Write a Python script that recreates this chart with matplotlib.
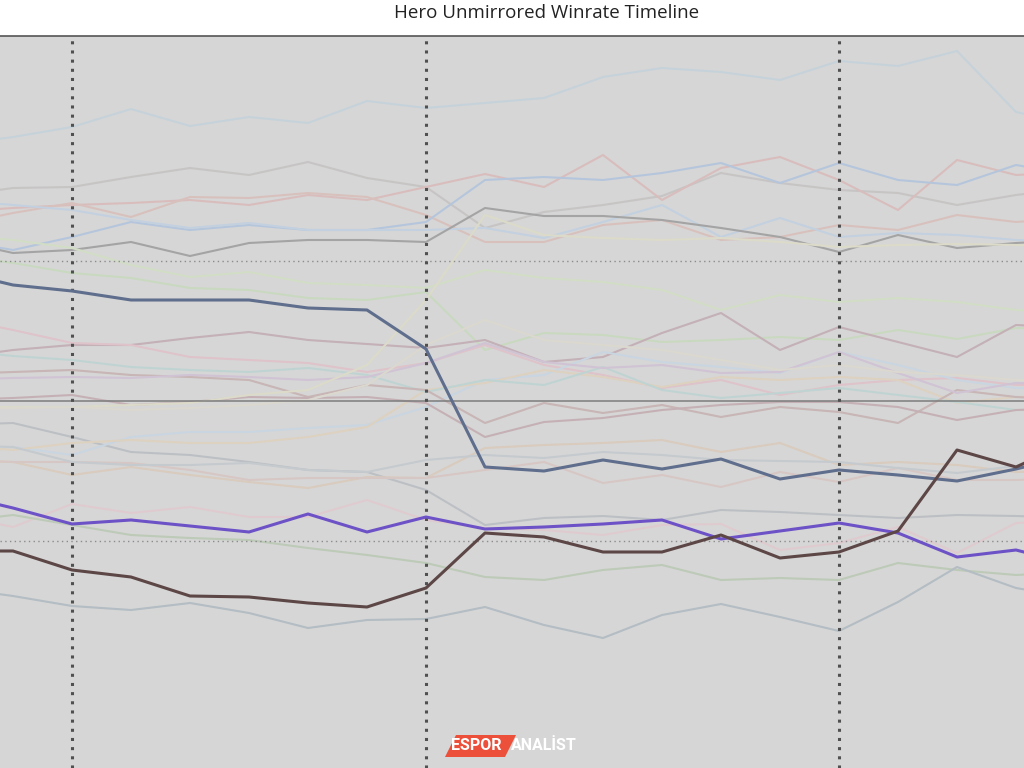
import numpy as np
import matplotlib.pyplot as plt
from matplotlib.patches import Polygon

plt.rcParams['font.family'] = ['Open Sans', 'DejaVu Sans']

# weekly patches, index -1 and 18 fall just outside the visible window
weeks = np.arange(-1, 19)
patch_weeks = [1, 7, 14]
avg_wr = 50
band = [57, 43]

# highlighted heroes
slate = [56.5, 55.8, 55.5, 55.05, 55.05, 55.05, 54.65, 54.55, 52.6, 46.7,
         46.5, 47.05, 46.6, 47.1, 46.1, 46.55, 46.3, 46.0, 46.6, 47.3]
purple = [45.35, 44.65, 43.85, 44.05, 43.75, 43.45, 44.35, 43.45, 44.2, 43.6,
          43.7, 43.85, 44.05, 43.1, 43.5, 43.9, 43.4, 42.2, 42.55, 41.8]
brown = [42.5, 42.5, 41.55, 41.2, 40.25, 40.2, 39.9, 39.7, 40.65, 43.4,
         43.2, 42.45, 42.45, 43.3, 42.15, 42.45, 43.5, 47.55, 46.7, 48.05]

# the rest of the roster, drawn faded
others = {
    '#c6d2da': [62.8, 63.2, 63.7, 64.6, 63.75, 64.2, 63.9, 65.0, 64.65, 64.9,
                65.15, 66.2, 66.65, 66.45, 66.05, 67.0, 66.75, 67.5, 64.45, 63.8],
    '#c7c4c4': [60.25, 60.65, 60.7, 61.2, 61.65, 61.3, 61.95, 61.15, 60.7, 58.65,
                59.45, 59.8, 60.25, 61.4, 60.9, 60.55, 60.4, 59.8, 60.3, 60.65],
    '#d9bdbd': [59.45, 59.65, 59.8, 59.9, 60.05, 59.8, 60.3, 60.05, 60.7, 61.35,
                60.7, 62.3, 60.05, 61.65, 62.2, 61.05, 59.55, 62.05, 61.3, 61.45],
    '#d8c1bd': [58.8, 59.4, 59.9, 59.2, 60.2, 60.15, 60.4, 60.2, 59.3, 57.95,
                57.95, 58.8, 59.05, 58.05, 58.2, 58.8, 58.55, 59.3, 58.95, 59.15],
    '#b5c6dc': [58.05, 57.55, 58.2, 58.95, 58.55, 58.8, 58.55, 58.55, 58.95, 61.05,
                61.2, 61.05, 61.4, 61.9, 60.9, 61.9, 61.05, 60.8, 61.8, 61.3],
    '#c3d0df': [60.05, 59.8, 59.55, 59.05, 58.65, 58.9, 58.55, 58.55, 58.55, 58.65,
                58.15, 58.95, 59.8, 58.2, 59.15, 58.2, 58.4, 58.3, 58.05, 57.95],
    '#a4a4a4': [58.05, 57.4, 57.55, 57.95, 57.25, 57.9, 58.05, 58.05, 57.95, 59.65,
                59.25, 59.25, 59.05, 58.65, 58.2, 57.45, 58.3, 57.65, 57.9, 58.05],
    '#d2ddc6': [58.3, 58.05, 57.65, 56.8, 56.2, 56.45, 55.9, 55.8, 55.65, 56.55,
                56.15, 55.95, 55.55, 54.55, 55.3, 54.95, 55.15, 54.95, 54.55, 54.45],
    '#c9d9c0': [57.3, 56.9, 56.4, 56.15, 55.65, 55.55, 55.15, 55.05, 55.45, 52.55,
                53.4, 53.3, 52.95, 53.05, 53.2, 53.05, 53.55, 53.1, 53.65, 53.55],
    '#c4b0b7': [52.15, 52.55, 52.8, 52.8, 53.15, 53.45, 53.05, 52.85, 52.65, 53.05,
                51.95, 52.2, 53.4, 54.4, 52.55, 53.7, 52.95, 52.2, 53.8, 53.65],
    '#dec3ca': [54.15, 53.55, 52.9, 52.8, 52.2, 52.05, 51.9, 51.45, 51.9, 52.8,
                51.8, 51.3, 50.65, 51.05, 50.3, 50.8, 51.05, 51.15, 50.8, 50.8],
    '#bcc0c4': [48.8, 48.9, 48.2, 47.45, 47.3, 46.95, 46.55, 46.45, 45.55, 43.8,
                44.15, 44.25, 44.05, 44.55, 44.45, 44.3, 44.15, 44.3, 44.25, 44.15],
    '#c9d5e0': [47.55, 47.7, 47.3, 48.2, 48.45, 48.45, 48.65, 48.8, 49.7, 51.05,
                51.3, 52.45, 51.95, 51.7, 51.4, 52.45, 51.8, 51.05, 50.65, 50.55],
    '#ddd1c0': [47.8, 47.55, 47.9, 48.05, 47.9, 47.9, 48.2, 48.7, 50.55, 50.9,
                51.55, 51.2, 50.7, 51.2, 51.05, 51.2, 51.05, 49.9, 50.2, 50.3],
    '#d9cbbd': [47.05, 46.95, 46.3, 46.7, 46.3, 45.95, 45.65, 46.2, 46.15, 47.65,
                47.8, 47.9, 48.05, 47.45, 47.9, 46.8, 46.95, 46.8, 46.45, 46.55],
    '#d7c7c4': [47.05, 46.95, 46.95, 46.9, 46.55, 46.05, 46.15, 46.15, 46.15, 46.55,
                46.95, 45.9, 46.3, 45.7, 46.45, 45.95, 46.65, 46.05, 46.05, 46.15],
    '#c5cacf': [47.8, 47.7, 46.95, 46.8, 46.8, 46.9, 46.55, 46.45, 47.05, 47.3,
                47.15, 47.45, 47.3, 47.05, 47.0, 46.95, 46.65, 46.4, 46.75, 46.8],
    '#dfcbcf': [44.3, 43.7, 44.85, 44.4, 44.7, 44.2, 44.2, 45.05, 44.05, 43.65,
                43.55, 43.3, 43.8, 43.85, 42.55, 42.9, 43.7, 42.4, 43.9, 44.05],
    '#bdcab7': [43.95, 44.3, 43.8, 43.3, 43.15, 43.05, 42.65, 42.3, 41.9, 41.2,
                41.05, 41.55, 41.8, 41.05, 41.15, 41.05, 41.9, 41.55, 41.3, 41.45],
    '#b3bdc3': [40.65, 40.25, 39.75, 39.55, 39.9, 39.4, 38.65, 39.05, 39.1, 39.7,
                38.8, 38.15, 39.3, 39.85, 39.2, 38.5, 39.95, 41.7, 40.65, 40.15],
    '#bfd4d2': [52.55, 52.25, 52.05, 51.7, 51.55, 51.45, 51.65, 51.3, 50.45, 51.05,
                50.8, 51.7, 50.55, 50.15, 50.4, 50.65, 50.3, 49.95, 49.55, 49.55],
    '#c8b5b5': [51.35, 51.45, 51.55, 51.3, 51.2, 51.05, 50.2, 50.8, 50.55, 48.9,
                49.9, 49.4, 49.8, 49.2, 49.7, 49.45, 48.9, 50.55, 50.2, 50.05],
    '#c5b1b5': [50.05, 50.15, 50.3, 49.8, 49.95, 50.2, 50.15, 50.2, 49.9, 48.2,
                48.95, 49.15, 49.55, 49.8, 49.95, 49.95, 49.7, 49.05, 49.55, 49.65],
    '#d0c3d4': [51.05, 51.15, 51.2, 51.15, 51.3, 51.2, 51.05, 51.2, 51.9, 52.9,
                51.95, 51.65, 51.8, 51.4, 51.45, 52.45, 51.4, 50.4, 50.9, 50.8],
    '#dcdbca': [49.65, 49.7, 49.7, 49.8, 49.9, 50.3, 50.55, 51.8, 55.05, 59.3,
                58.3, 58.15, 58.05, 58.15, 57.95, 57.7, 57.8, 57.85, 57.8, 57.8],
    '#dbd8cf': [49.55, 49.65, 49.7, 49.55, 49.65, 49.8, 50.05, 50.8, 52.8, 54.05,
                53.05, 52.8, 52.55, 52.05, 51.55, 51.8, 51.45, 51.3, 51.05, 51.05],
}

fig = plt.figure(figsize=(10.24, 7.68), dpi=100)
ax = fig.add_axes([0, 0, 1, 732 / 768])
ax.set_facecolor('#d6d6d6')

for col, vals in others.items():
    ax.plot(weeks, vals, '-', color=col, lw=1.5, zorder=2)

ax.axhline(avg_wr, color='#7c7c7c', lw=1.1, zorder=3)
for b in band:
    ax.axhline(b, color='#8c8c8c', lw=1.0, ls=(0, (1, 2.4)), zorder=3)
for w in patch_weeks:
    ax.axvline(w, color='#505050', lw=2.2, ls=(0, (1, 2)), zorder=4)

ax.plot(weeks, slate, '-', color='#5f6e8c', lw=2.2, zorder=5)
ax.plot(weeks, purple, '-', color='#6c52c6', lw=2.2, zorder=5)
ax.plot(weeks, brown, '-', color='#5d4646', lw=2.2, zorder=6)

ax.set_xlim(-13 / 59, 1011 / 59)
ax.set_ylim(50 - 367 / 20, 50 + 365 / 20)
ax.set_xticks([])
ax.set_yticks([])
for s in ['left', 'right', 'bottom']:
    ax.spines[s].set_visible(False)
ax.spines['top'].set_color('#555555')
ax.spines['top'].set_linewidth(1.2)

fig.text(547 / 1024, 1 - 13 / 768, 'Hero Unmirrored Winrate Timeline',
         ha='center', va='center', fontsize=13.5, color='#222222')

# watermark
W, H = 1024, 768
badge = [(445, 757), (456, 735), (516, 735), (505, 757)]
fig.add_artist(Polygon([(px / W, 1 - py / H) for px, py in badge], closed=True,
                       transform=fig.transFigure, facecolor='#ec4f3a',
                       edgecolor='none', zorder=10))
fig.text(451 / W, 1 - 746 / H, 'ESPOR', ha='left', va='center', fontsize=11.5,
         fontweight='bold', color='white', family='Roboto', zorder=11)
fig.text(511 / W, 1 - 746 / H, 'ANALİST', ha='left', va='center', fontsize=11.5,
         fontweight='bold', color='white', family='Roboto', zorder=11)

plt.savefig('out.png', dpi=100)
